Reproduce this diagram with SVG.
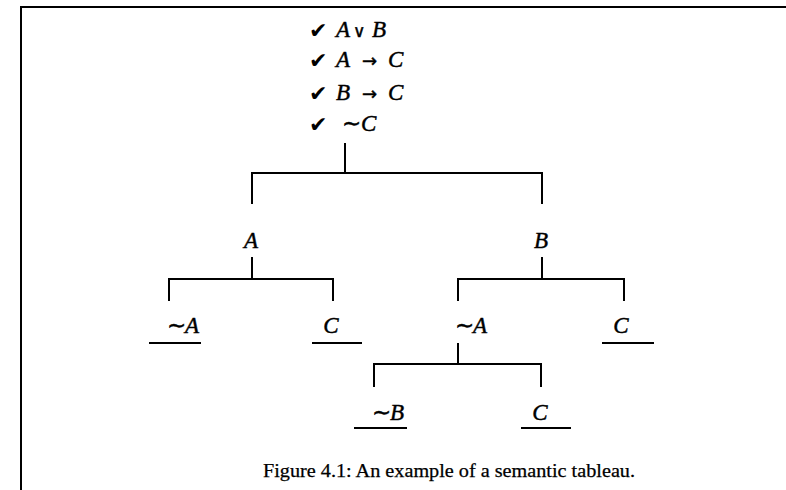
<svg xmlns="http://www.w3.org/2000/svg" width="786" height="490" viewBox="0 0 786 490">
<style>
.f{font-family:"Liberation Serif","Times New Roman",serif;font-size:23px;fill:#000;stroke:#000;stroke-width:0.45}
.i{font-style:italic}
.ar{font-family:"DejaVu Sans",sans-serif;font-size:18px}
.ck{font-family:"DejaVu Sans",sans-serif;font-size:22px;fill:#000}
.ln{stroke:#000;stroke-width:2;fill:none;stroke-linecap:square}
.cap{font-family:"Liberation Serif","Times New Roman",serif;font-size:19px;fill:#000;stroke:#000;stroke-width:0.25}
</style>
<rect width="786" height="490" fill="#fff"/>
<path class="ln" d="M21,490 V7 H786"/>
<g id="root">
<text class="ck" x="309" y="38">✔</text>
<text class="f" y="37"><tspan class="i" x="336">A</tspan><tspan x="353" font-size="17">∨</tspan><tspan class="i" x="372">B</tspan></text>
<text class="ck" x="309" y="68">✔</text>
<text class="f" y="67"><tspan class="i" x="336">A</tspan><tspan class="ar" x="362">→</tspan><tspan class="i" x="388">C</tspan></text>
<text class="ck" x="309" y="101">✔</text>
<text class="f" y="100"><tspan class="i" x="336">B</tspan><tspan class="ar" x="362">→</tspan><tspan class="i" x="388">C</tspan></text>
<text class="ck" x="309" y="132">✔</text>
<text class="f" y="131"><tspan x="342">∼</tspan><tspan class="i" x="361">C</tspan></text>
</g>
<g id="nA"><text class="f i" x="251" y="248" text-anchor="middle">A</text></g>
<g id="nB"><text class="f i" x="541" y="248" text-anchor="middle">B</text></g>
<g id="nA1"><text class="f" y="333"><tspan x="167">∼</tspan><tspan class="i" x="185">A</tspan></text></g>
<g id="nC1"><text class="f i" x="331" y="333" text-anchor="middle">C</text></g>
<g id="nA2"><text class="f" y="333"><tspan x="455">∼</tspan><tspan class="i" x="473">A</tspan></text></g>
<g id="nC2"><text class="f i" x="621" y="333" text-anchor="middle">C</text></g>
<g id="nB3"><text class="f" y="420"><tspan x="372">∼</tspan><tspan class="i" x="390">B</tspan></text></g>
<g id="nC3"><text class="f i" x="540" y="420" text-anchor="middle">C</text></g>
<g id="connectors">
<path class="ln" d="M345,144 V173 M252,203 V173 H542 V203"/>
<path class="ln" d="M252,258 V279 M169,300 V279 H333 V300"/>
<path class="ln" d="M542,258 V279 M458,300 V279 H624 V300"/>
<path class="ln" d="M458,344 V364 M374,386 V364 H541 V386"/>
<path class="ln" d="M150,343 H200 M313,343 H361 M603,343 H653 M355,428 H406 M522,428 H570" stroke-linecap="butt"/>
</g>
<text class="cap" x="263" y="477" textLength="372" lengthAdjust="spacingAndGlyphs">Figure 4.1: An example of a semantic tableau.</text>
</svg>
